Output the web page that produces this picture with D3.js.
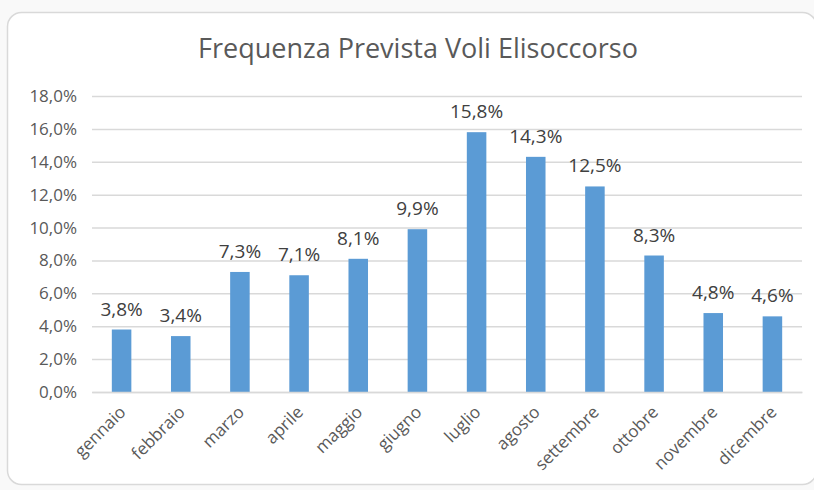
<!DOCTYPE html>
<html>
<head>
<meta charset="utf-8">
<script src="https://cdn.jsdelivr.net/npm/d3@7"></script>
<style>
  body { margin: 0; background: #f9f9f9; }
  svg { display: block; }
  svg text { font-family: "Open Sans", "Noto Sans", sans-serif; }
</style>
</head>
<body>
<svg id="chart" width="814" height="490"></svg>
<script>
// months and expected share of flights (%)
const months = ["gennaio", "febbraio", "marzo", "aprile", "maggio", "giugno",
                "luglio", "agosto", "settembre", "ottobre", "novembre", "dicembre"];
const freq = [3.8, 3.4, 7.3, 7.1, 8.1, 9.9, 15.8, 14.3, 12.5, 8.3, 4.8, 4.6];
const yTicks = [0, 2, 4, 6, 8, 10, 12, 14, 16, 18];

const svg = d3.select("#chart");
const fmt = d => d.toFixed(1).replace(".", ",") + "%";

// chart frame
svg.append("rect")
    .attr("x", 7.5).attr("y", 12.5)
    .attr("width", 809).attr("height", 472)
    .attr("rx", 14)
    .attr("fill", "#fff")
    .attr("stroke", "#d9d9d9")
    .attr("stroke-width", 1.5);

svg.append("text")
    .attr("x", 418).attr("y", 58)
    .attr("text-anchor", "middle")
    .attr("fill", "#595959")
    .style("font-size", "27px")
    .text("Frequenza Prevista Voli Elisoccorso");

const margin = { top: 96, left: 92, right: 12, bottom: 98 };
const width = 814 - margin.left - margin.right;
const height = 490 - margin.top - margin.bottom;

const g = svg.append("g")
    .attr("transform", "translate(" + margin.left + "," + margin.top + ")");

const x = d3.scaleBand().domain(months).range([0, width]).paddingInner(0.67).paddingOuter(0.335);
const y = d3.scaleLinear().domain([0, 18]).range([height, 0]);

// gridlines + y labels
const yAxis = g.append("g")
    .call(d3.axisLeft(y).tickValues(yTicks).tickFormat(fmt).tickSize(-width).tickPadding(15))
    .attr("font-size", 17)
    .attr("font-family", "Open Sans");
yAxis.select(".domain").remove();
yAxis.selectAll(".tick line").attr("stroke", "#d9d9d9").attr("stroke-width", 1.5);
yAxis.selectAll(".tick text").attr("fill", "#595959");

g.selectAll(".bar")
    .data(freq)
    .enter()
    .append("rect")
        .attr("class", "bar")
        .attr("x", (d, i) => x(months[i]))
        .attr("y", d => y(d))
        .attr("width", x.bandwidth())
        .attr("height", d => height - y(d))
        .attr("fill", "#5b9bd5");

g.selectAll(".lbl")
    .data(freq)
    .enter()
    .append("text")
        .attr("class", "lbl")
        .attr("x", (d, i) => x(months[i]) + x.bandwidth() / 2)
        .attr("y", d => y(d) - 14)
        .attr("text-anchor", "middle")
        .attr("fill", "#404040")
        .style("font-size", "19px")
        .text(fmt);

// x labels, rotated
const xAxis = g.append("g")
    .attr("transform", "translate(0," + height + ")")
    .call(d3.axisBottom(x).tickSize(0).tickPadding(0))
    .attr("font-size", 17)
    .attr("font-family", "Open Sans");
xAxis.select(".domain").attr("stroke", "#d9d9d9").attr("stroke-width", 1.5);
xAxis.selectAll(".tick text")
    .attr("fill", "#595959")
    .attr("text-anchor", "end")
    .attr("dy", "0.35em")
    .attr("transform", "translate(1,17) rotate(-45)");
</script>
</body>
</html>
